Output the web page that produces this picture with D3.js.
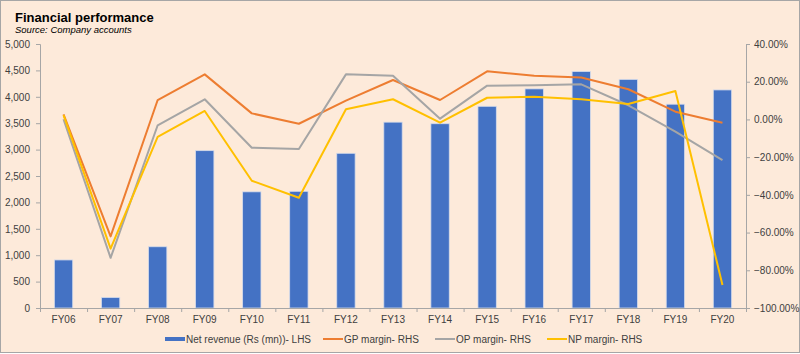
<!DOCTYPE html>
<html>
<head>
<meta charset="utf-8">
<script src="https://cdn.jsdelivr.net/npm/d3@7"></script>
<style>
  body { margin: 0; background: #fff; }
  svg { display: block; font-family: "Liberation Sans", Arial, sans-serif; }
</style>
</head>
<body>
<div id="chart"></div>
<script>
// Financial performance - revenue bars (LHS) and margin lines (RHS)
const years = ["FY06","FY07","FY08","FY09","FY10","FY11","FY12","FY13","FY14","FY15","FY16","FY17","FY18","FY19","FY20"];
const revenue = [910, 200, 1160, 2980, 2200, 2210, 2930, 3520, 3490, 3820, 4150, 4480, 4330, 3860, 4130];
const gpMargin = [2.7, -62.0, 10.3, 23.9, 3.2, -2.3, 10.0, 20.9, 10.3, 25.5, 23.2, 22.2, 16.0, 4.1, -1.8];
const opMargin = [0.1, -73.4, -3.1, 10.7, -15.0, -15.7, 23.9, 23.2, 0.4, 17.9, 18.1, 18.6, 7.5, -6.5, -21.6];
const npMargin = [2.3, -68.5, -9.2, 4.5, -32.5, -41.5, 5.4, 10.7, -1.7, 11.5, 12.0, 10.7, 8.2, 15.1, -87.8];
const leftTicks = [0, 500, 1000, 1500, 2000, 2500, 3000, 3500, 4000, 4500, 5000];
const rightTicks = [-100, -80, -60, -40, -20, 0, 20, 40];

const W = 800, H = 354;
const margin = { top: 44, right: 54, bottom: 46, left: 40 };
const width = W - margin.left - margin.right;
const height = H - margin.top - margin.bottom;

const svg = d3.select("#chart").append("svg")
    .attr("width", W)
    .attr("height", H);

// background + frame
svg.append("rect")
    .attr("x", 0.5).attr("y", 0.5)
    .attr("width", W - 1).attr("height", H - 2)
    .attr("fill", "#FDEADA")
    .attr("stroke", "#A6A6A6");

svg.append("text")
    .attr("x", 15).attr("y", 22)
    .style("font-size", "13px")
    .style("font-weight", "bold")
    .text("Financial performance");

svg.append("text")
    .attr("x", 15).attr("y", 33)
    .style("font-size", "9.5px")
    .style("font-style", "italic")
    .text("Source: Company accounts");

const g = svg.append("g")
    .attr("transform", `translate(${margin.left}, ${margin.top})`);

const x = d3.scaleBand()
    .domain(years)
    .range([0, width])
    .paddingInner(0.61)
    .paddingOuter(0.305);

const xBoundary = d3.scaleLinear()
    .domain([0, years.length])
    .range([0, width]);

const yL = d3.scaleLinear().domain([0, 5000]).range([height, 0]);
const yR = d3.scaleLinear().domain([-100, 40]).range([height, 0]);

// bars
g.selectAll(".bar")
    .data(years)
    .enter()
    .append("rect")
    .attr("class", "bar")
    .attr("x", d => x(d))
    .attr("width", x.bandwidth())
    .attr("y", (d, i) => yL(revenue[i]))
    .attr("height", (d, i) => yL(0) - yL(revenue[i]))
    .attr("fill", "#4472C4")
    .attr("stroke", "#D6DCEA")
    .attr("stroke-width", 0.8);

// axes
const axisColor = "#A6A6A6";

const yAxisL = g.append("g")
    .call(d3.axisLeft(yL).tickValues(leftTicks).tickSize(4).tickPadding(6).tickFormat(d3.format(",")));

const yAxisR = g.append("g")
    .attr("transform", `translate(${width}, 0)`)
    .call(d3.axisRight(yR).tickValues(rightTicks).tickSize(4).tickPadding(4).tickFormat(d => d3.format(".2f")(d) + "%"));

const xAxis = g.append("g")
    .attr("transform", `translate(0, ${height})`)
    .call(d3.axisBottom(xBoundary).tickValues(d3.range(0, years.length + 1)).tickSize(4).tickFormat(""));

g.append("g")
    .attr("transform", `translate(0, ${height})`)
    .selectAll("text")
    .data(years)
    .enter()
    .append("text")
    .attr("x", d => x(d) + x.bandwidth() / 2)
    .attr("y", 15)
    .attr("text-anchor", "middle")
    .style("font-size", "10px")
    .attr("fill", "#404040")
    .text(d => d);

[yAxisL, yAxisR, xAxis].forEach(a => {
    a.select(".domain").attr("stroke", axisColor);
    a.selectAll(".tick line").attr("stroke", axisColor);
    a.selectAll(".tick text").attr("fill", "#404040").style("font-size", "10px").style("font-family", "Liberation Sans, Arial, sans-serif");
});

// margin lines
const series = [
    { name: "OP margin- RHS", values: opMargin, color: "#A5A5A5" },
    { name: "NP margin- RHS", values: npMargin, color: "#FFC000" },
    { name: "GP margin- RHS", values: gpMargin, color: "#ED7D31" }
];

const line = d3.line()
    .x((d, i) => x(years[i]) + x.bandwidth() / 2)
    .y(d => yR(d));

// draw GP first, then OP, then NP (NP on top as in the original)
[series[2], series[0], series[1]].forEach(s => {
    g.append("path")
        .datum(s.values)
        .attr("fill", "none")
        .attr("stroke", s.color)
        .attr("stroke-width", 2)
        .attr("stroke-linejoin", "round")
        .attr("d", line);
});

// legend
const legend = svg.append("g").attr("transform", "translate(0, 339)");
const legendItems = [
    { name: "Net revenue (Rs (mn))- LHS", color: "#4472C4", type: "bar", x: 165 },
    { name: "GP margin- RHS", color: "#ED7D31", type: "line", x: 323 },
    { name: "OP margin- RHS", color: "#A5A5A5", type: "line", x: 435 },
    { name: "NP margin- RHS", color: "#FFC000", type: "line", x: 547 }
];

legendItems.forEach(item => {
    if (item.type === "bar") {
        legend.append("rect")
            .attr("x", item.x).attr("y", -2)
            .attr("width", 20).attr("height", 4)
            .attr("fill", item.color);
    } else {
        legend.append("line")
            .attr("x1", item.x).attr("x2", item.x + 20)
            .attr("y1", 0).attr("y2", 0)
            .attr("stroke", item.color)
            .attr("stroke-width", 2);
    }
    legend.append("text")
        .attr("x", item.x + 21)
        .attr("y", 3.5)
        .style("font-size", "10px")
        .attr("fill", "#404040")
        .text(item.name);
});
</script>
</body>
</html>
